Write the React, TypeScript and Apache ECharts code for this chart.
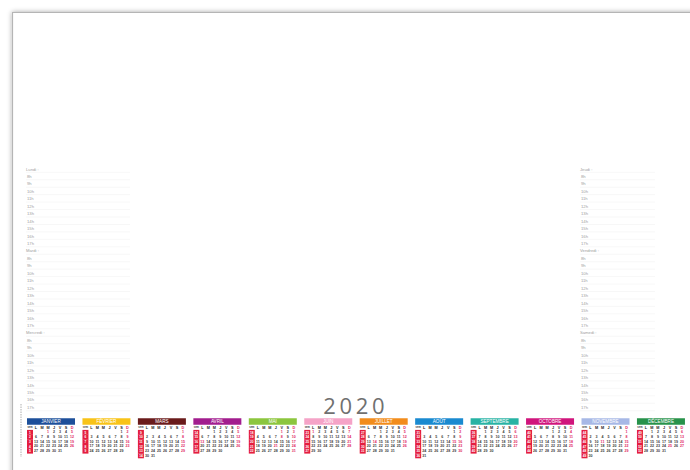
import React, { useEffect, useRef } from "react";
import * as echarts from "echarts";

const YEAR = 2020;
const MONTHS = ["JANVIER", "FÉVRIER", "MARS", "AVRIL", "MAI", "JUIN", "JUILLET", "AOÛT", "SEPTEMBRE", "OCTOBRE", "NOVEMBRE", "DÉCEMBRE"];
const MONTH_COLORS = ["#1d4f9a", "#f8c318", "#6a1b1b", "#a21d8e", "#8cc63e", "#f5a3c7", "#f28c1c", "#1a8ad0", "#28b3a4", "#d0157c", "#a7b8e6", "#27924a"];
const WEEKDAY_LETTERS = ["L", "M", "M", "J", "V", "S", "D"];
const HOLIDAYS = ["2020-01-01", "2020-04-13", "2020-05-01", "2020-05-08", "2020-05-21", "2020-06-01", "2020-07-14", "2020-08-15", "2020-11-01", "2020-11-11", "2020-12-25"];
const LEFT_DAYS = ["Lundi :", "Mardi :", "Mercredi :"];
const RIGHT_DAYS = ["Jeudi :", "Vendredi :", "Samedi :"];
const HOURS = ["8h", "9h", "10h", "11h", "12h", "13h", "14h", "15h", "16h", "17h"];

const CW = 6;
const RH = 4.7;
const WEEK_W = 6;
const CAL_X0 = 27;
const CAL_STEP = 55.45;
const CAL_TOP = 430;
const RED = "#e41e3f";
const DAY_DARK = "#3a3a3a";
const DAY_RED = "#e0245e";

const pad = (n: number) => (n < 10 ? "0" + n : "" + n);

function isoWeek(y: number, m: number, d: number) {
  const t = new Date(Date.UTC(y, m, d));
  const dayNum = t.getUTCDay() || 7;
  t.setUTCDate(t.getUTCDate() + 4 - dayNum);
  const yearStart = new Date(Date.UTC(t.getUTCFullYear(), 0, 1));
  return Math.ceil(((t.getTime() - yearStart.getTime()) / 86400000 + 1) / 7);
}

export default function App() {
  const ref = useRef<HTMLDivElement>(null);
  useEffect(() => {
    const chart = echarts.init(ref.current!, undefined, { renderer: "svg" });
    const calendars: any[] = [];
    const series: any[] = [];

    MONTHS.forEach((name, m) => {
      const days = new Date(Date.UTC(YEAR, m + 1, 0)).getUTCDate();
      const offset = (new Date(Date.UTC(YEAR, m, 1)).getUTCDay() + 6) % 7;
      calendars.push({
        orient: "vertical",
        left: CAL_X0 + m * CAL_STEP + WEEK_W,
        top: CAL_TOP,
        cellSize: [CW, RH],
        range: `${YEAR}-${pad(m + 1)}`,
        splitLine: { show: false },
        itemStyle: { color: "#ffffff", borderWidth: 0, borderColor: "#ffffff" },
        dayLabel: { show: false, firstDay: 1 },
        monthLabel: { show: false },
        yearLabel: { show: false },
      });
      const dayData: any[] = [];
      const rowData: any[] = [];
      for (let d = 1; d <= days; d++) {
        const ds = `${YEAR}-${pad(m + 1)}-${pad(d)}`;
        const col = (offset + d - 1) % 7;
        const row = Math.floor((offset + d - 1) / 7);
        const red = col === 6 || HOLIDAYS.includes(ds);
        dayData.push([ds, d, red ? 1 : 0]);
        if (col === 0 || d === 1) rowData.push([ds, isoWeek(YEAR, m, d), col, row, m]);
      }
      series.push({
        type: "custom",
        coordinateSystem: "calendar",
        calendarIndex: m,
        silent: true,
        data: dayData,
        renderItem: (params: any, api: any) => {
          const pt = api.coord([api.value(0)]);
          return {
            type: "text",
            style: {
              text: String(api.value(1)),
              x: pt[0],
              y: pt[1],
              align: "center",
              verticalAlign: "middle",
              fontSize: 3.6,
              fontWeight: "bold",
              fill: api.value(2) ? DAY_RED : DAY_DARK,
              fontFamily: "Liberation Sans",
            },
          };
        },
      });
      series.push({
        type: "custom",
        coordinateSystem: "calendar",
        calendarIndex: m,
        silent: true,
        data: rowData,
        renderItem: (params: any, api: any) => {
          const pt = api.coord([api.value(0)]);
          const week = api.value(1);
          const col = api.value(2);
          const row = api.value(3);
          const mi = api.value(4);
          const leftEdge = pt[0] - CW / 2 - col * CW;
          const yTop = pt[1] - RH / 2;
          const children: any[] = [
            { type: "rect", shape: { x: leftEdge - WEEK_W, y: yTop - 0.1, width: WEEK_W, height: RH + 0.2 }, style: { fill: RED } },
            {
              type: "text",
              style: { text: String(week), x: leftEdge - WEEK_W / 2, y: pt[1], align: "center", verticalAlign: "middle", fontSize: 3.2, fill: "#ffffff", fontFamily: "Liberation Sans", fontWeight: "bold" },
            },
          ];
          if (row === 0) {
            const hy = yTop - RH / 2;
            WEEKDAY_LETTERS.forEach((l, k) => {
              children.push({
                type: "text",
                style: { text: l, x: leftEdge + k * CW + CW / 2, y: hy, align: "center", verticalAlign: "middle", fontSize: 3.8, fontWeight: "bold", fill: k === 6 ? DAY_RED : "#222222", fontFamily: "Liberation Sans" },
              });
            });
            children.push({
              type: "text",
              style: { text: "sem", x: leftEdge - WEEK_W / 2, y: hy, align: "center", verticalAlign: "middle", fontSize: 2.6, fontWeight: "bold", fill: "#333333", fontFamily: "Liberation Sans" },
            });
            const bandY = yTop - RH - 7;
            children.push({ type: "rect", shape: { x: leftEdge - WEEK_W, y: bandY, width: WEEK_W + 7 * CW, height: 6.5 }, style: { fill: MONTH_COLORS[mi] } });
            children.push({
              type: "text",
              style: { text: MONTHS[mi], x: leftEdge - WEEK_W + (WEEK_W + 7 * CW) / 2, y: bandY + 3.4, align: "center", verticalAlign: "middle", fontSize: 4.6, fill: "#ffffff", fontFamily: "Liberation Sans" },
            });
          }
          return { type: "group", children };
        },
      });
    });

    const graphic: any[] = [
      { type: "rect", shape: { x: 12.5, y: 12.5, width: 700, height: 480 }, style: { fill: "#ffffff", stroke: "#b5b5b5", lineWidth: 1.2, shadowBlur: 5, shadowColor: "rgba(0,0,0,0.35)" } },
      { type: "line", shape: { x1: 21, y1: 404, x2: 21, y2: 457 }, style: { stroke: "#9a9a9a", lineWidth: 0.8, lineDash: [1.5, 1] } },
      {
        type: "text",
        style: { text: "2\u20090\u20092\u20090", x: 354, y: 405, align: "center", verticalAlign: "middle", fontSize: 22, fill: "#707070", fontFamily: "Open Sans" },
      },
    ];
    const STEP = 7.45;
    const addBlock = (names: string[], x: number, x2: number) => {
      names.forEach((name, di) => {
        const y0 = 169 + di * (HOURS.length + 1) * STEP;
        const labels = [name, ...HOURS];
        labels.forEach((lab, r) => {
          const y = y0 + r * STEP;
          graphic.push({
            type: "text",
            style: { text: lab, x: r === 0 ? x : x + 1, y, align: "left", verticalAlign: "middle", fontSize: 4.2, fill: "#a0a0a0", fontFamily: "Liberation Sans" },
          });
          graphic.push({ type: "line", shape: { x1: x, y1: y + 3.3, x2, y2: y + 3.3 }, style: { stroke: "#f1f1f1", lineWidth: 0.6 } });
        });
      });
    };
    addBlock(LEFT_DAYS, 26, 130);
    addBlock(RIGHT_DAYS, 580, 655);

    chart.setOption({
      animation: false,
      backgroundColor: "#ffffff",
      calendar: calendars,
      series,
      graphic,
    });
    return () => chart.dispose();
  }, []);
  return <div ref={ref} style={{ position: "fixed", left: 0, top: 0, width: 690, height: 470 }} />;
}
